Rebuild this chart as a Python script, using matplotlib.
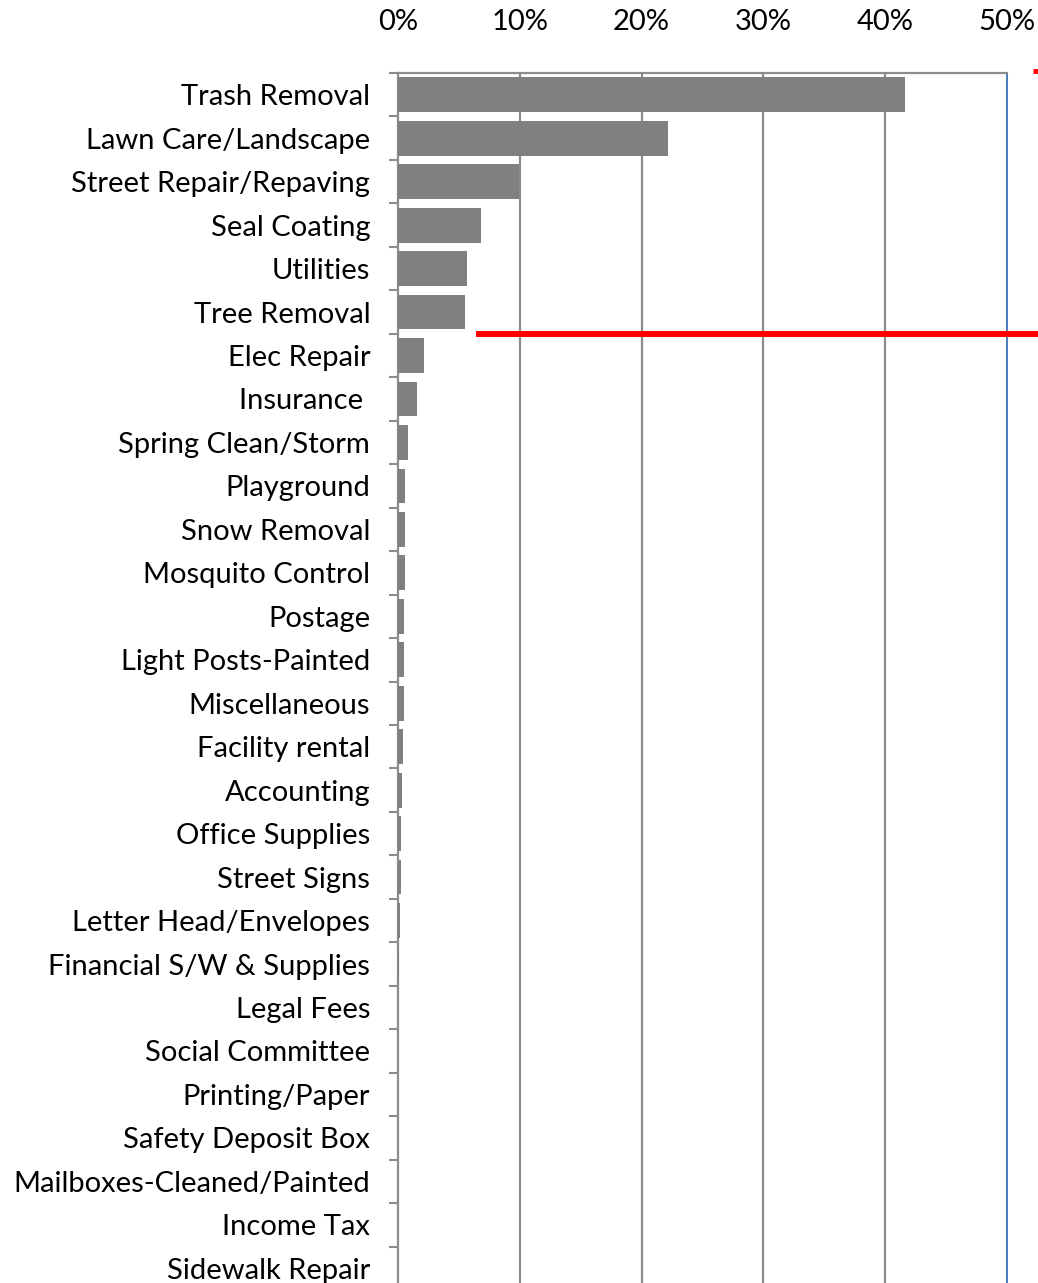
import matplotlib.pyplot as plt
from matplotlib.ticker import FuncFormatter

categorias = ["Trash Removal", "Lawn Care/Landscape", "Street Repair/Repaving", "Seal Coating",
              "Utilities", "Tree Removal", "Elec Repair", "Insurance ", "Spring Clean/Storm",
              "Playground", "Snow Removal", "Mosquito Control", "Postage", "Light Posts-Painted",
              "Miscellaneous", "Facility rental", "Accounting", "Office Supplies", "Street Signs",
              "Letter Head/Envelopes", "Financial S/W & Supplies", "Legal Fees", "Social Committee",
              "Printing/Paper", "Safety Deposit Box", "Mailboxes-Cleaned/Painted", "Income Tax",
              "Sidewalk Repair"]
valores = [41.6, 22.2, 9.9, 6.8, 5.7, 5.5, 2.1, 1.6, 0.8, 0.6, 0.55, 0.55, 0.52, 0.5,
           0.47, 0.38, 0.33, 0.27, 0.22, 0.15, 0.1, 0.04, 0.03, 0.02, 0.02, 0.01, 0.01, 0.01]
marcas_x = [0, 10, 20, 30, 40, 50]

cinza = "#808080"
linha_cinza = "#8c8c8c"
azul = "#4a7ebb"

plt.rcParams['font.family'] = ['Lato', 'DejaVu Sans']

fig = plt.figure(figsize=(10.38, 12.83), dpi=100)
ax = fig.add_axes([398 / 1038, -7 / 1283, 609 / 1038, 1 - 73 / 1283 + 7 / 1283])

y = list(range(len(categorias)))
ax.barh(y, valores, height=0.8, color=cinza, zorder=3)
ax.set_ylim(len(categorias) - 0.5, -0.5)
ax.set_xlim(0, 50)

ax.set_yticks(y)
ax.set_yticklabels(categorias, fontsize=21)
ax.set_yticks([i + 0.5 for i in range(-1, len(categorias))], minor=True)
ax.tick_params(axis='y', which='major', length=0, pad=20)
ax.tick_params(axis='y', which='minor', length=6.5, width=1.5, color=linha_cinza)

ax.xaxis.tick_top()
ax.set_xticks(marcas_x)
ax.xaxis.set_major_formatter(FuncFormatter(lambda v, p: f"{v:.0f}%"))
ax.tick_params(axis='x', length=0, pad=27, labelsize=21)

for x in marcas_x[1:-1]:
    ax.axvline(x, color=linha_cinza, linewidth=1.6, zorder=1)

ax.spines['bottom'].set_visible(False)
ax.spines['left'].set_color(linha_cinza)
ax.spines['left'].set_linewidth(1.6)
ax.spines['top'].set_color(linha_cinza)
ax.spines['top'].set_linewidth(1.6)
ax.spines['right'].set_color(azul)
ax.spines['right'].set_linewidth(1.4)

# linha vermelha entre Tree Removal e Elec Repair
ax.plot([6.4, 53], [5.5, 5.5], color="#ff0000", linewidth=4.3, clip_on=False, zorder=4,
        solid_capstyle='butt')
ax.plot([52.1, 53], [-0.55, -0.55], color="#ff0000", linewidth=3.5, clip_on=False, zorder=4,
        solid_capstyle='butt')

fig.savefig("out.png", dpi=100)
